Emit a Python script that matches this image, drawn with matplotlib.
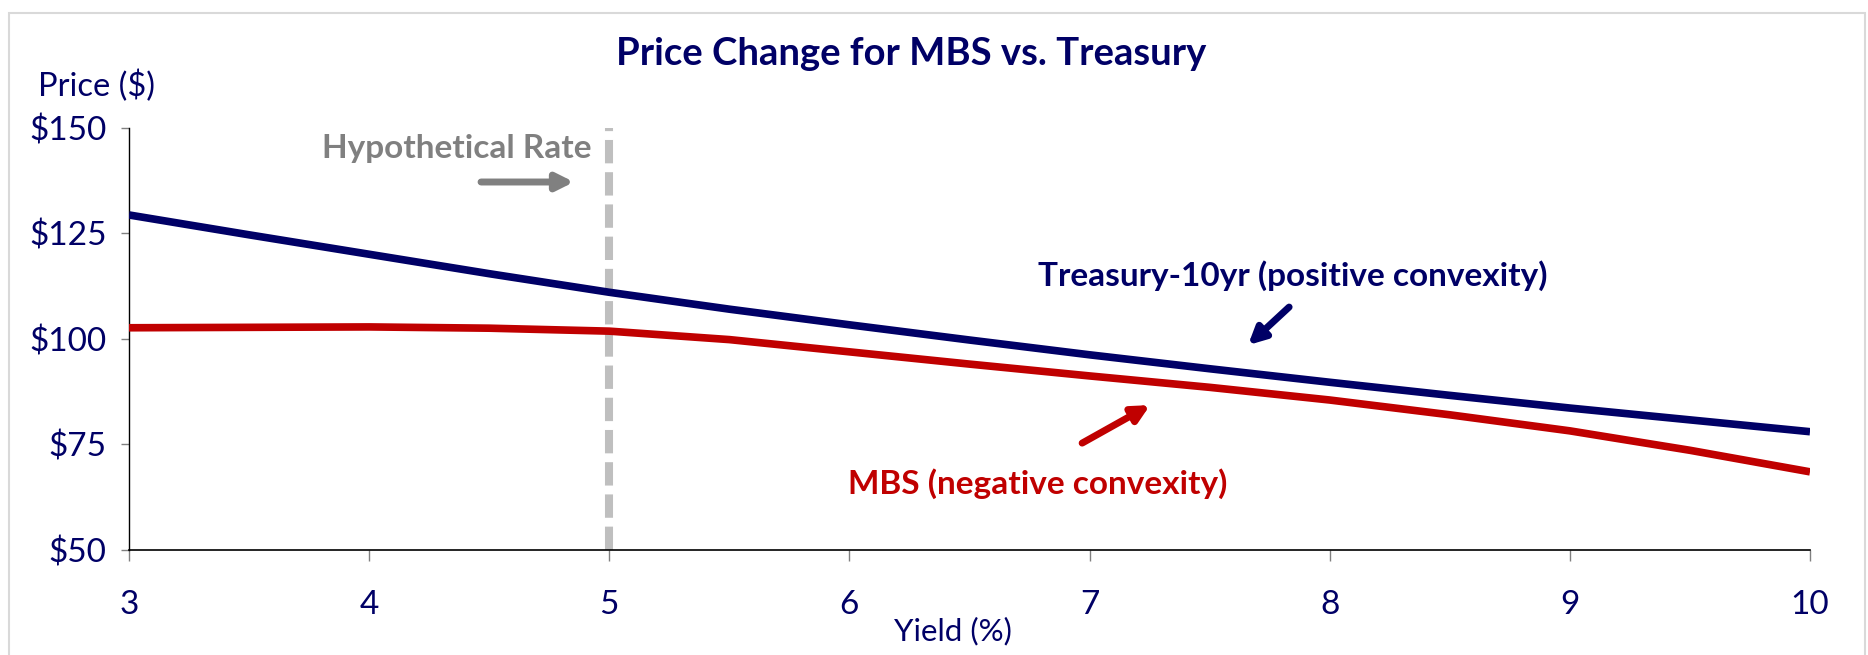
import matplotlib.pyplot as plt
from matplotlib.patches import Rectangle

# yields (%) and prices ($)
yields = [3.0, 3.5, 4.0, 4.5, 5.0, 5.5, 6.0, 6.5, 7.0, 7.5, 8.0, 8.5, 9.0, 9.5, 10.0]
treasury = [129.3, 124.6, 120.0, 115.4, 111.0, 107.0, 103.3, 99.7, 96.2, 92.9, 89.7, 86.6, 83.6, 80.8, 78.0]
mbs = [102.6, 102.7, 102.8, 102.5, 101.8, 99.8, 96.9, 94.0, 91.2, 88.5, 85.5, 82.0, 78.2, 73.6, 68.5]
hypothetical_rate = 5
x_ticks = [3, 4, 5, 6, 7, 8, 9, 10]
y_ticks = [50, 75, 100, 125, 150]

navy = '#000066'
red = '#c00000'
plt.rcParams['font.family'] = ['Lato', 'DejaVu Sans']

fig = plt.figure(figsize=(18.68, 6.55), dpi=100)
fig.patches.append(Rectangle((9 / 1868, -0.1), 1856 / 1868, 1.1 - 13 / 655,
                             transform=fig.transFigure, fill=False,
                             edgecolor='#d9d9d9', linewidth=1.5))
ax = fig.add_axes([129 / 1868, 105 / 655, 1681 / 1868, 422.5 / 655])

ax.plot(yields, treasury, color=navy, lw=5.5, solid_capstyle='butt', zorder=3)
ax.plot(yields, mbs, color=red, lw=5.5, solid_capstyle='butt', zorder=3)
ax.axvline(hypothetical_rate, color='#bfbfbf', lw=5.8, dashes=(2.9, 1.1), zorder=2)

ax.set_xlim(3, 10)
ax.set_ylim(50, 150)
ax.set_xticks(x_ticks)
ax.set_yticks(y_ticks)
ax.set_yticklabels(['$%d' % v for v in y_ticks])
ax.tick_params(axis='y', length=6, width=1, color='#808080', pad=10,
               labelsize=24, labelcolor=navy)
ax.tick_params(axis='x', length=8, width=1, color='#808080', pad=21,
               labelsize=24, labelcolor=navy)
for s in ['top', 'right']:
    ax.spines[s].set_visible(False)
ax.spines['left'].set_linewidth(1)
ax.spines['bottom'].set_linewidth(1.2)

fig.text(911 / 1868, 1 - 54 / 655, 'Price Change for MBS vs. Treasury', ha='center',
         va='center', fontsize=27.5, fontweight='bold', color=navy)
fig.text(97 / 1868, 1 - 86 / 655, 'Price ($)', ha='center', va='center',
         fontsize=23.5, color=navy)
fig.text(953 / 1868, 1 - 631 / 655, 'Yield (%)', ha='center', va='center',
         fontsize=22.5, color=navy)

ax.text(4.928, 145.1, 'Hypothetical Rate', ha='right', va='center', fontsize=24,
        fontweight='bold', color='#808080')
ax.annotate('', xy=(4.853, 137.1), xytext=(4.466, 137.1),
            arrowprops=dict(arrowstyle='-|>,head_length=1.0,head_width=0.5',
                            color='#808080', lw=5, shrinkA=0, shrinkB=0))
ax.text(7.848, 114.9, 'Treasury-10yr (positive convexity)', ha='center', va='center',
        fontsize=24, fontweight='bold', color=navy)
ax.annotate('', xy=(7.66, 98.5), xytext=(7.831, 107.5),
            arrowprops=dict(arrowstyle='-|>,head_length=1.0,head_width=0.5',
                            color=navy, lw=5, shrinkA=0, shrinkB=0))
ax.text(6.782, 65.6, 'MBS (negative convexity)', ha='center', va='center',
        fontsize=24, fontweight='bold', color=red)
ax.annotate('', xy=(7.252, 84.3), xytext=(6.969, 75.3),
            arrowprops=dict(arrowstyle='-|>,head_length=1.0,head_width=0.5',
                            color=red, lw=5, shrinkA=0, shrinkB=0))

fig.savefig('out.png', dpi=100)
